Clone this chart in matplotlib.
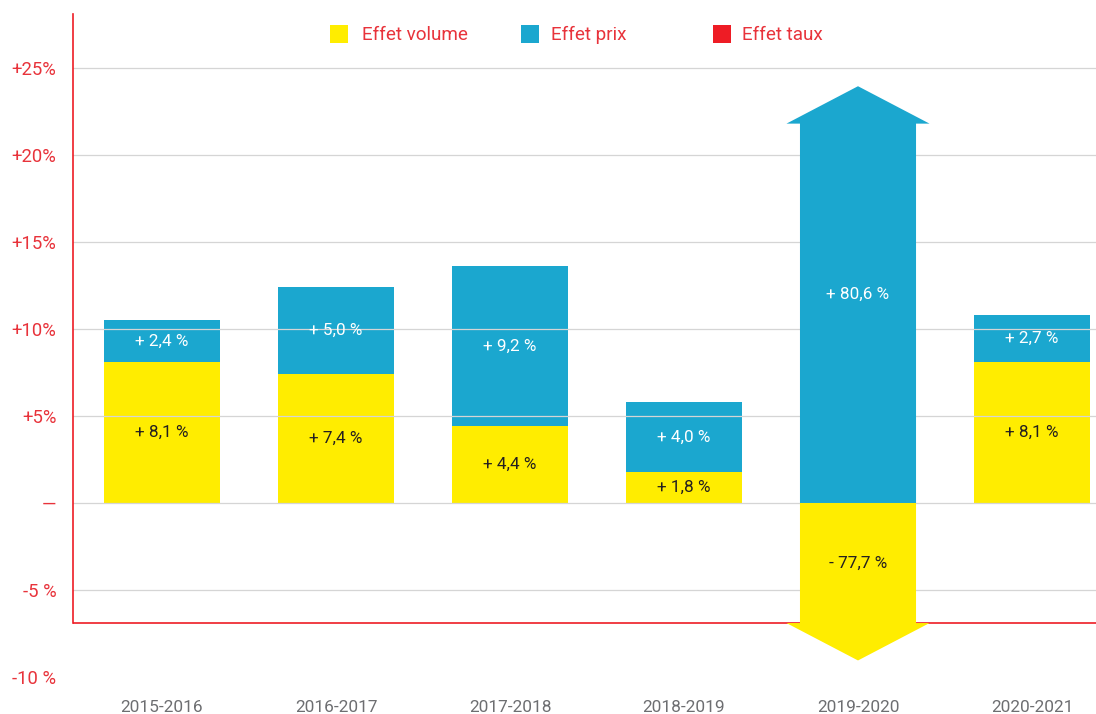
import matplotlib
matplotlib.use('Agg')
import matplotlib.pyplot as plt
from matplotlib.patches import Polygon, Rectangle

plt.rcParams['font.family'] = ['Roboto', 'DejaVu Sans']

# data
periods = ['2015-2016', '2016-2017', '2017-2018', '2018-2019', '2019-2020', '2020-2021']
effet_volume = [8.1, 7.4, 4.4, 1.8, -77.7, 8.1]
effet_prix = [2.4, 5.0, 9.2, 4.0, 80.6, 2.7]
legend_labels = ['Effet volume', 'Effet prix', 'Effet taux']
y_ticks = [-10, -5, 0, 5, 10, 15, 20, 25]
y_tick_labels = ['-10 %', '-5 %', '\u2014', '+5%', '+10%', '+15%', '+20%', '+25%']
grid_levels = [-5, 0, 5, 10, 15, 20, 25]

# values beyond these are cut and drawn as arrows
Y_CAP = 21.8
Y_FLOOR = -6.9
HEAD = 2.15

YELLOW = '#FFED00'
BLUE = '#1BA7CF'
RED = '#EE1C25'
TXT_RED = '#E8333B'
DARK = '#231F20'

W = 0.667
HEAD_W = 0.822


def fmt(v):
    sign = '+' if v >= 0 else '-'
    return f'{sign} {abs(v):.1f} %'.replace('.', ',')


def arrow(ax, x, start, end, tip, color):
    hw, hh = W / 2, HEAD_W / 2
    pts = [(x - hw, start), (x - hw, end), (x - hh, end), (x, tip),
           (x + hh, end), (x + hw, end), (x + hw, start)]
    ax.add_patch(Polygon(pts, closed=True, facecolor=color, edgecolor='none', zorder=3))


fig = plt.figure(figsize=(10.96, 7.14), dpi=100)
ax = fig.add_axes([73 / 1096, 1 - 685.7 / 714, 1 - 73 / 1096, (685.7 - 14) / 714])

for i, (vol, prix) in enumerate(zip(effet_volume, effet_prix)):
    # volume segment
    if vol < Y_FLOOR:
        arrow(ax, i, 0, Y_FLOOR, Y_FLOOR - HEAD, YELLOW)
        vol_y = Y_FLOOR / 2
    else:
        ax.bar(i, vol, W, color=YELLOW, zorder=1)
        vol_y = vol / 2
    ax.text(i, vol_y, fmt(vol), ha='center', va='center', fontsize=12.3,
            color=DARK, zorder=6)

    # price segment
    base = max(vol, 0)
    if base + prix > Y_CAP:
        arrow(ax, i, base, Y_CAP, Y_CAP + HEAD, BLUE)
        prix_y = (base + Y_CAP + HEAD) / 2
    else:
        ax.bar(i, prix, W, bottom=base, color=BLUE, zorder=1)
        prix_y = base + prix / 2
    ax.text(i, prix_y, fmt(prix), ha='center', va='center', fontsize=12.3,
            color='white', zorder=6)

for g in grid_levels:
    ax.axhline(g, color='#D5D5D5', lw=0.9, zorder=2)
ax.axhline(Y_FLOOR, color=RED, lw=1.2, zorder=2.5)

ax.set_xlim(-0.5115, -0.5115 + 1023 / 174)
ax.set_ylim(-10.5, 28.1)

ax.set_yticks(y_ticks)
ax.set_yticklabels(y_tick_labels)
ax.set_xticks(range(len(periods)))
ax.set_xticklabels(periods)
ax.tick_params(axis='y', length=0, pad=12, labelsize=13.3, labelcolor=TXT_RED)
ax.tick_params(axis='x', length=0, pad=10, labelsize=12.4, labelcolor='#6D6E71')

for s in ['top', 'right', 'bottom']:
    ax.spines[s].set_visible(False)
ax.spines['left'].set_color(RED)
ax.spines['left'].set_linewidth(1.2)
ax.spines['left'].set_bounds(Y_FLOOR, 28.1)

# legend
leg_colors = [YELLOW, BLUE, RED]
sq_x = [330, 521, 713]
txt_x = [362, 551, 742]
for lab, col, sx, tx in zip(legend_labels, leg_colors, sq_x, txt_x):
    fig.patches.append(Rectangle((sx / 1096, 1 - 43 / 714), 18 / 1096, 18 / 714,
                                 transform=fig.transFigure, facecolor=col,
                                 edgecolor='none'))
    fig.text(tx / 1096, 1 - 35 / 714, lab, ha='left', va='center',
             fontsize=13.6, color=TXT_RED)

fig.savefig('out.png', dpi=100, facecolor='white')
